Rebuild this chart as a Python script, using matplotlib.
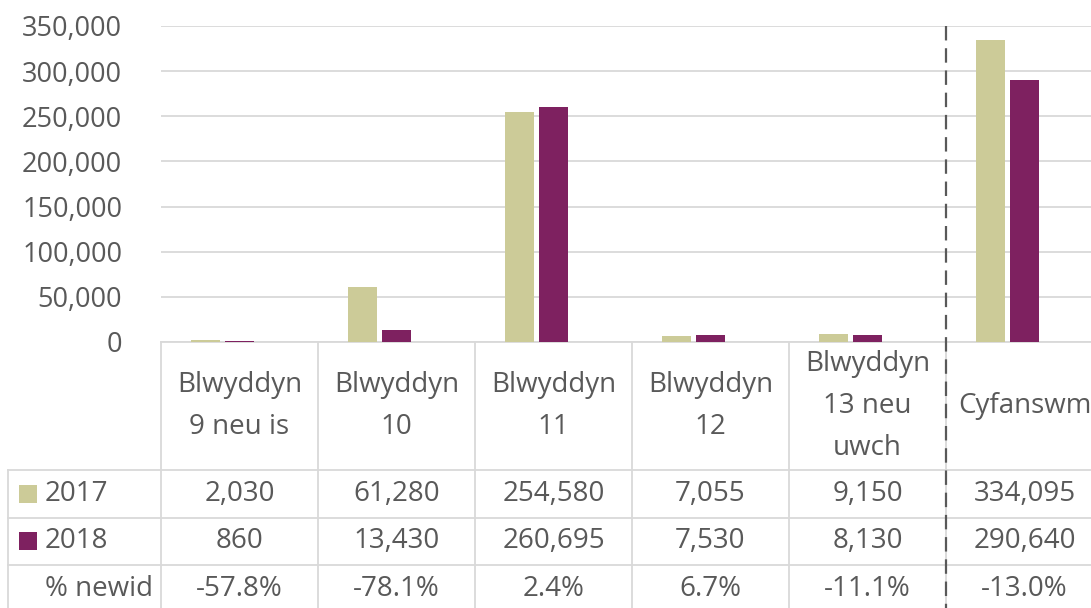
import matplotlib
matplotlib.use('Agg')
import matplotlib.pyplot as plt
import numpy as np
from matplotlib.ticker import FuncFormatter

# data
categories = ['Blwyddyn\n9 neu is', 'Blwyddyn\n10', 'Blwyddyn\n11', 'Blwyddyn\n12',
              'Blwyddyn\n13 neu\nuwch', 'Cyfanswm']
vals_2017 = [2030, 61280, 254580, 7055, 9150, 334095]
vals_2018 = [860, 13430, 260695, 7530, 8130, 290640]
pct_newid = [-57.8, -78.1, 2.4, 6.7, -11.1, -13.0]
series_names = ['2017', '2018', '% newid']

plt.rcParams['font.family'] = ['Open Sans', 'DejaVu Sans']
txt = '#595959'
grid = '#d9d9d9'
c17 = '#cccb98'
c18 = '#7e2160'
fs = 19.5    # axis labels
fs_t = 20    # table text

W, H = 1091, 608
fig = plt.figure(figsize=(W / 100, H / 100), dpi=100)
# plot area in pixels: x 161..1103 (6 columns of 157 px), y 26..342
ax = fig.add_axes([161 / W, (H - 342) / H, (1103 - 161) / W, 316 / H])


def fy(py):
    # pixel row -> axes fraction
    return (342 - py) / 316


def fx(px):
    # pixel column -> data x
    return (px - 161) / 157


x = np.arange(len(categories)) + 0.5
bw = 0.188
ax.bar(x - 0.217, vals_2017, bw, color=c17, zorder=3)
ax.bar(x, vals_2018, bw, color=c18, zorder=3)

ax.set_xlim(0, len(categories))
ax.set_ylim(0, 350000)
ax.set_yticks(np.arange(0, 350001, 50000))
ax.yaxis.set_major_formatter(FuncFormatter(lambda v, p: f'{v:,.0f}'))
ax.tick_params(axis='y', length=0, pad=28, labelsize=fs, labelcolor=txt)
ax.set_xticks([])
ax.grid(axis='y', color=grid, lw=1.3, zorder=0)
ax.set_axisbelow(True)
for s in ['left', 'right', 'top']:
    ax.spines[s].set_visible(False)
ax.spines['bottom'].set_color(grid)
ax.spines['bottom'].set_linewidth(1.3)

# data table below the chart
tr = ax.get_xaxis_transform()
bottom = 613
for py in [470, 518, 565, bottom]:
    ax.plot([fx(8), len(categories)], [fy(py)] * 2, transform=tr, clip_on=False,
            color=grid, lw=1.3)
for i in range(len(categories)):
    ax.plot([i, i], [0, fy(bottom)], transform=tr, clip_on=False, color=grid, lw=1.3)
ax.plot([fx(8)] * 2, [fy(470), fy(bottom)], transform=tr, clip_on=False, color=grid, lw=1.3)

# dashed separator before the total
ax.plot([5, 5], [1.0, fy(bottom)], transform=tr, clip_on=False, color=txt, lw=1.6,
        ls=(0, (6.5, 3.5)), zorder=5)

for xi, cat in zip(x, categories):
    ax.text(xi, fy(406), cat, transform=tr, ha='center', va='center',
            fontsize=fs_t, color=txt, linespacing=1.66)

row_y = [494, 541, 589]
for xi, a, b, p in zip(x, vals_2017, vals_2018, pct_newid):
    ax.text(xi, fy(row_y[0]), f'{a:,}', transform=tr, ha='center', va='center', fontsize=fs_t, color=txt)
    ax.text(xi, fy(row_y[1]), f'{b:,}', transform=tr, ha='center', va='center', fontsize=fs_t, color=txt)
    ax.text(xi, fy(row_y[2]), f'{p:.1f}%', transform=tr, ha='center', va='center', fontsize=fs_t, color=txt)

# legend keys in the first column
for name, col, ry in zip(series_names, [c17, c18, None], row_y):
    if col is not None:
        ax.scatter([fx(27.5)], [fy(ry)], marker='s', s=185, color=col, transform=tr,
                   clip_on=False, linewidths=0)
    ax.text(fx(45), fy(ry), name, transform=tr, ha='left', va='center', fontsize=fs_t, color=txt)

fig.savefig('out.png', dpi=100)
